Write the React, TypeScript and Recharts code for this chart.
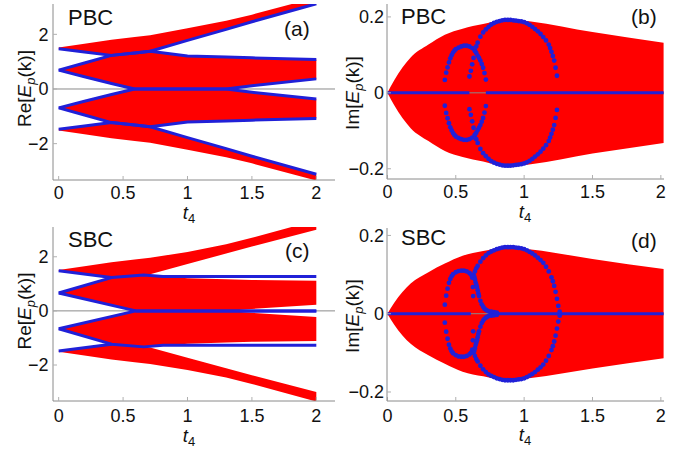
import React from 'react';
import { ComposedChart, Area, Line, XAxis, YAxis, ReferenceLine } from 'recharts';

const RED = '#ff0000';
const BLUE = '#2020d8';
const FRAME = '#8a8a8a';
const FONT = '"Liberation Sans", Arial, Helvetica, sans-serif';

// Re[E] panels (a) and (c): band edges sampled at these t4 values
const RE_T = [0, 0.2, 0.41, 0.59, 0.71, 1.0, 1.3, 1.5, 2.0];
const PBC_TOP_LOW = [1.47, 1.35, 1.23, 1.32, 1.38, 1.78, 2.18, 2.46, 3.12];
const PBC_TOP_HIGH = [1.52, 1.66, 1.8, 1.9, 1.97, 2.22, 2.5, 2.72, 3.35];
const PBC_MID_LOW = [0.69, 0.45, 0.2, 0, 0, 0, 0, 0.12, 0.37];
const PBC_MID_HIGH = [0.69, 0.95, 1.23, 1.32, 1.38, 1.21, 1.17, 1.14, 1.08];

const SBC_TOP_LOW = [1.48, 1.36, 1.23, 1.3, 1.35, 1.73, 2.12, 2.38, 3.0];
const SBC_TOP_HIGH = [1.51, 1.65, 1.8, 1.9, 1.96, 2.18, 2.46, 2.7, 3.35];
const SBC_MID_LOW = [0.66, 0.44, 0.21, 0, 0, 0, 0, 0.07, 0.23];
const SBC_MID_HIGH = [0.66, 0.93, 1.23, 1.31, 1.33, 1.21, 1.17, 1.14, 1.11];

// blue edge states in (c)
const SBC_EDGE_T = [0, 0.41, 0.66, 0.81, 2.0];
const SBC_EDGE_V = [0.66, 1.23, 1.33, 1.27, 1.27];
const SBC_OUTER_T = [0, 0.41];
const SBC_OUTER_V = [1.48, 1.23];
const SBC_INNER_T = [0, 0.6, 2.0];
const SBC_INNER_V = [0.66, 0, 0];

// Im[E] panels (b) and (d): envelope of the red lens
const IM_T = [0, 0.05, 0.17, 0.3, 0.42, 0.55, 0.7, 0.87, 1.05, 1.5, 2.02];
const PBC_IM_EDGE = [0, 0.033, 0.093, 0.127, 0.153, 0.169, 0.181, 0.194, 0.188, 0.16, 0.132];
const SBC_IM_EDGE = [0, 0.028, 0.077, 0.106, 0.128, 0.148, 0.16, 0.17, 0.164, 0.14, 0.114];

// blue dotted arches (upper halves, mirrored below)
const PBC_SMALL_T = [0.42, 0.43, 0.44, 0.45, 0.46, 0.47, 0.48, 0.49, 0.5, 0.52, 0.54, 0.56, 0.58, 0.6, 0.62, 0.64, 0.65, 0.66, 0.67, 0.68, 0.69, 0.7, 0.71, 0.72];
const PBC_SMALL_V = [0.034, 0.053, 0.067, 0.08, 0.091, 0.099, 0.106, 0.111, 0.115, 0.119, 0.122, 0.124, 0.124, 0.122, 0.118, 0.111, 0.105, 0.098, 0.092, 0.085, 0.076, 0.066, 0.052, 0.035];
const PBC_BIG_T = [0.6, 0.61, 0.62, 0.63, 0.64, 0.65, 0.66, 0.68, 0.7, 0.72, 0.74, 0.76, 0.78, 0.8, 0.82, 0.84, 0.86, 0.88, 0.9, 0.92, 0.94, 0.96, 0.98, 1.0, 1.02, 1.04, 1.06, 1.08, 1.1, 1.12, 1.14, 1.16, 1.18, 1.19, 1.2, 1.21, 1.22, 1.23, 1.24];
const PBC_BIG_V = [0.043, 0.058, 0.075, 0.092, 0.11, 0.122, 0.132, 0.148, 0.159, 0.167, 0.174, 0.18, 0.184, 0.187, 0.189, 0.191, 0.192, 0.192, 0.192, 0.191, 0.19, 0.189, 0.188, 0.186, 0.183, 0.179, 0.174, 0.168, 0.162, 0.155, 0.147, 0.138, 0.127, 0.118, 0.108, 0.097, 0.085, 0.066, 0.045];

const SBC_SMALL_T = [0.42, 0.43, 0.44, 0.45, 0.46, 0.47, 0.48, 0.5, 0.52, 0.54, 0.56, 0.58, 0.6, 0.61, 0.62, 0.625, 0.627];
const SBC_SMALL_V = [0.023, 0.046, 0.064, 0.079, 0.089, 0.096, 0.101, 0.106, 0.109, 0.11, 0.11, 0.108, 0.104, 0.1, 0.092, 0.068, 0.045];
const SBC_BIG_T = [0.63, 0.64, 0.65, 0.66, 0.68, 0.7, 0.72, 0.74, 0.76, 0.78, 0.8, 0.82, 0.84, 0.86, 0.88, 0.9, 0.92, 0.94, 0.96, 0.98, 1.0, 1.02, 1.04, 1.06, 1.08, 1.1, 1.12, 1.14, 1.16, 1.18, 1.2, 1.21, 1.22, 1.23, 1.24, 1.25, 1.26];
const SBC_BIG_V = [0.1, 0.108, 0.116, 0.122, 0.133, 0.142, 0.149, 0.155, 0.159, 0.162, 0.165, 0.167, 0.169, 0.17, 0.17, 0.17, 0.17, 0.169, 0.168, 0.167, 0.165, 0.162, 0.158, 0.154, 0.149, 0.143, 0.137, 0.13, 0.12, 0.108, 0.093, 0.083, 0.071, 0.056, 0.038, 0.02, 0.005];
const SBC_TAIL_T = [0.635, 0.64, 0.645, 0.65, 0.655, 0.66, 0.665, 0.67, 0.68, 0.69, 0.7, 0.71, 0.72, 0.73, 0.74, 0.76, 0.78, 0.8];
const SBC_TAIL_V = [0.095, 0.088, 0.08, 0.074, 0.068, 0.06, 0.052, 0.045, 0.033, 0.024, 0.018, 0.013, 0.01, 0.008, 0.006, 0.005, 0.004, 0.003];

// blue Im = 0 line, with its gap
const PBC_ZERO_T = [[0, 0.6], [0.72, 2.02]];
const SBC_ZERO_T = [[0, 0.61], [0.74, 2.02]];

const X_TICKS = [0, 0.5, 1, 1.5, 2];
const RE_TICKS = [-2, 0, 2];
const IM_TICKS = [-0.2, 0, 0.2];

const reRows = (tl: number[], th: number[], ml: number[], mh: number[]) =>
  RE_T.map((t, i) => ({
    t,
    top: [tl[i], th[i]],
    mid: [ml[i], mh[i]],
    nmid: [-mh[i], -ml[i]],
    ntop: [-th[i], -tl[i]],
    topLow: tl[i],
    midHigh: mh[i],
    midLow: ml[i],
    nTopLow: -tl[i],
    nMidHigh: -mh[i],
    nMidLow: -ml[i],
  }));

const imRows = (edge: number[]) => IM_T.map((t, i) => ({ t, band: [-edge[i], edge[i]] }));

const pts = (ts: number[], vs: number[], sign = 1) => ts.map((t, i) => ({ t, v: sign * vs[i] }));

const minus = (v: number) => String(v).replace('-', '\u2212');

const tickStyle = { fontSize: 18, fill: '#111', fontFamily: FONT };
const dotStyle = { r: 2.4, fill: BLUE, stroke: 'none' };

// frame: bottom/left axes with ticks, plus bare top/right axes to close the box
function axes(xd: number[], yd: number[], yTicks: number[], yWidth: number, xHeight: number, yMargin: number, xMargin: number) {
  return [
    <XAxis key="xb" type="number" dataKey="t" domain={xd} allowDataOverflow ticks={X_TICKS} interval={0}
      height={xHeight} tickSize={-4} tickMargin={xMargin} tick={tickStyle}
      axisLine={{ stroke: FRAME }} tickLine={{ stroke: '#b0b0b0' }} />,
    <XAxis key="xt" xAxisId="top" orientation="top" type="number" dataKey="t" domain={xd} allowDataOverflow
      height={0} tick={false} tickLine={false} axisLine={{ stroke: FRAME }} />,
    <YAxis key="yl" type="number" domain={yd} allowDataOverflow ticks={yTicks} interval={0}
      width={yWidth} tickSize={-4} tickMargin={yMargin} tick={tickStyle} tickFormatter={minus}
      axisLine={{ stroke: FRAME }} tickLine={{ stroke: '#b0b0b0' }} />,
    <YAxis key="yr" yAxisId="right" orientation="right" type="number" domain={yd}
      width={0} tick={false} tickLine={false} axisLine={{ stroke: FRAME }} />,
  ];
}

function RePanel({ rows, sbc, margin, xHeight }: any) {
  const yd = sbc ? [-3.33, 3.1] : [-3.33, 3.11];
  const lineProps = { type: 'linear' as const, stroke: BLUE, strokeWidth: 3, dot: false, activeDot: false, isAnimationActive: false, strokeLinejoin: 'round' as const };
  return (
    <ComposedChart width={344} height={sbc ? 224 : 225} data={rows} margin={margin}>
      {axes([-0.044, 2.145], yd, RE_TICKS, 53, xHeight, 8.5, sbc ? 12 : 10)}
      <Area dataKey="top" type="linear" fill={RED} fillOpacity={1} stroke="none" isAnimationActive={false} />
      <Area dataKey="mid" type="linear" fill={RED} fillOpacity={1} stroke="none" isAnimationActive={false} />
      <Area dataKey="nmid" type="linear" fill={RED} fillOpacity={1} stroke="none" isAnimationActive={false} />
      <Area dataKey="ntop" type="linear" fill={RED} fillOpacity={1} stroke="none" isAnimationActive={false} />
      <ReferenceLine y={0} stroke={FRAME} strokeWidth={1} />
      {!sbc && [
        <Line key="a1" dataKey="topLow" {...lineProps} />,
        <Line key="a2" dataKey="midHigh" {...lineProps} />,
        <Line key="a3" dataKey="midLow" {...lineProps} />,
        <Line key="a4" dataKey="nTopLow" {...lineProps} />,
        <Line key="a5" dataKey="nMidHigh" {...lineProps} />,
        <Line key="a6" dataKey="nMidLow" {...lineProps} />,
      ]}
      {sbc && [
        <Line key="c1" data={pts(SBC_OUTER_T, SBC_OUTER_V)} dataKey="v" {...lineProps} />,
        <Line key="c2" data={pts(SBC_EDGE_T, SBC_EDGE_V)} dataKey="v" {...lineProps} />,
        <Line key="c3" data={pts(SBC_INNER_T, SBC_INNER_V)} dataKey="v" {...lineProps} />,
        <Line key="c4" data={pts(SBC_OUTER_T, SBC_OUTER_V, -1)} dataKey="v" {...lineProps} />,
        <Line key="c5" data={pts(SBC_EDGE_T, SBC_EDGE_V, -1)} dataKey="v" {...lineProps} />,
        <Line key="c6" data={pts(SBC_INNER_T, SBC_INNER_V, -1)} dataKey="v" {...lineProps} />,
      ]}
    </ComposedChart>
  );
}

function ImPanel({ rows, yd, arches, zero, margin, height, xHeight, xMargin }: any) {
  return (
    <ComposedChart width={344} height={height} data={rows} margin={margin}>
      {axes([-0.003, 2.023], yd, IM_TICKS, 43, xHeight, 7, xMargin)}
      <Area dataKey="band" type="monotone" fill={RED} fillOpacity={1} stroke="none" isAnimationActive={false} />
      <ReferenceLine y={0} stroke={FRAME} strokeWidth={1} />
      {zero.map((seg: number[], i: number) => (
        <Line key={'z' + i} data={seg.map((t) => ({ t, v: 0 }))} dataKey="v" type="linear" stroke={BLUE}
          strokeWidth={3} dot={false} activeDot={false} isAnimationActive={false} />
      ))}
      {arches.map((a: any, i: number) => (
        <Line key={'arch' + i} data={a} dataKey="v" type="linear" stroke="none" dot={dotStyle}
          activeDot={false} isAnimationActive={false} />
      ))}
    </ComposedChart>
  );
}

function Overlay() {
  const title = { fontFamily: FONT, fill: '#111' };
  const yTitle = (cx: number, cy: number, re: boolean) => (
    <text transform={`translate(${cx},${cy}) rotate(-90)`} textAnchor="middle" dy="0.32em" fontSize={19} {...title}>
      <tspan>{re ? 'Re[' : 'Im['}</tspan>
      <tspan fontStyle="italic">E</tspan>
      <tspan fontStyle="italic" fontSize={13} dy={4}>p</tspan>
      <tspan dy={-4}>(k)]</tspan>
    </text>
  );
  const xTitle = (cx: number, y: number) => (
    <text x={cx} y={y} textAnchor="middle" fontSize={18.5} {...title}>
      <tspan fontStyle="italic">t</tspan>
      <tspan fontSize={13} dy={4}>4</tspan>
    </text>
  );
  return (
    <svg width={688} height={449} style={{ position: 'absolute', left: 0, top: 0, pointerEvents: 'none' }}>
      <text x={68} y={25} fontSize={22} {...title}>PBC</text>
      <text x={284} y={36} fontSize={21} {...title}>(a)</text>
      <text x={401} y={23.5} fontSize={22} {...title}>PBC</text>
      <text x={631} y={24} fontSize={21} {...title}>(b)</text>
      <text x={68} y={246.5} fontSize={22} {...title}>SBC</text>
      <text x={285} y={257.5} fontSize={21} {...title}>(c)</text>
      <text x={401} y={245} fontSize={22} {...title}>SBC</text>
      <text x={631} y={247.5} fontSize={21} {...title}>(d)</text>
      {yTitle(25, 88.5, true)}
      {yTitle(353, 93, false)}
      {yTitle(25, 311, true)}
      {yTitle(353, 316, false)}
      {xTitle(189, 219)}
      {xTitle(525, 218)}
      {xTitle(189, 442)}
      {xTitle(525, 441)}
    </svg>
  );
}

export default function App() {
  const pbcRe = reRows(PBC_TOP_LOW, PBC_TOP_HIGH, PBC_MID_LOW, PBC_MID_HIGH);
  const sbcRe = reRows(SBC_TOP_LOW, SBC_TOP_HIGH, SBC_MID_LOW, SBC_MID_HIGH);
  const pbcArches = [
    pts(PBC_SMALL_T, PBC_SMALL_V), pts(PBC_SMALL_T, PBC_SMALL_V, -1),
    pts(PBC_BIG_T, PBC_BIG_V), pts(PBC_BIG_T, PBC_BIG_V, -1),
  ];
  const sbcArches = [
    pts(SBC_SMALL_T, SBC_SMALL_V), pts(SBC_SMALL_T, SBC_SMALL_V, -1),
    pts(SBC_BIG_T, SBC_BIG_V), pts(SBC_BIG_T, SBC_BIG_V, -1),
    pts(SBC_TAIL_T, SBC_TAIL_V), pts(SBC_TAIL_T, SBC_TAIL_V, -1),
  ];
  const cell = (left: number, top: number): React.CSSProperties => ({ position: 'absolute', left, top });

  return (
    <div style={{ position: 'absolute', left: 0, top: 0, width: 688, height: 449, background: '#fff', fontFamily: FONT }}>
      <div style={cell(0, 0)}>
        <RePanel rows={pbcRe} sbc={false} margin={{ top: 4, right: 9, left: 0, bottom: 0 }} xHeight={45} />
      </div>
      <div style={cell(344, 0)}>
        <ImPanel rows={imRows(PBC_IM_EDGE)} yd={[-0.227, 0.234]} arches={pbcArches} zero={PBC_ZERO_T}
          margin={{ top: 4, right: 24, left: 0, bottom: 0 }} height={225} xHeight={46} xMargin={10} />
      </div>
      <div style={cell(0, 225)}>
        <RePanel rows={sbcRe} sbc margin={{ top: 2, right: 9, left: 0, bottom: 0 }} xHeight={48} />
      </div>
      <div style={cell(344, 225)}>
        <ImPanel rows={imRows(SBC_IM_EDGE)} yd={[-0.223, 0.219]} arches={sbcArches} zero={SBC_ZERO_T}
          margin={{ top: 3, right: 24, left: 0, bottom: 0 }} height={224} xHeight={48} xMargin={12} />
      </div>
      <Overlay />
    </div>
  );
}
